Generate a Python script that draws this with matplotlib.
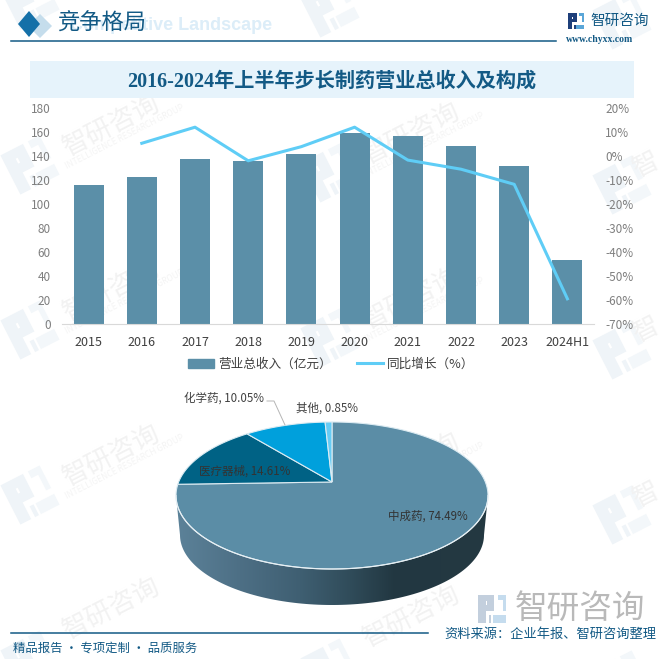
"""竞争格局:制药营业总收入及构成(柱线组合 + 伪 3D 饼图)。"""
import matplotlib

matplotlib.use("Agg")
import matplotlib.pyplot as plt
import numpy as np
from matplotlib.lines import Line2D
from matplotlib.patches import Patch, Polygon

plt.rcParams["font.family"] = ["Noto Sans CJK SC", "DejaVu Sans"]

W, H = 664, 659

years = ["2015", "2016", "2017", "2018", "2019", "2020", "2021", "2022", "2023", "2024H1"]
revenue = [115.8, 122.5, 137.5, 135.8, 141.7, 159, 156.7, 148, 131.7, 53.3]
growth = [None, 5.3, 12, -2, 3.9, 12, -1.7, -5.5, -11.8, -59.5]
left_ticks = list(range(0, 181, 20))
right_ticks = list(range(-70, 21, 10))

pie_labels = ["中成药", "医疗器械", "化学药", "其他"]
pie_values = [74.49, 14.61, 10.05, 0.85]
pie_colors = ["#5b8da6", "#006285", "#00a0dc", "#66ccf5"]

BAR_COLOR = "#5b8fa8"
LINE_COLOR = "#5fcdf6"
NAVY = "#135a85"

fig = plt.figure(figsize=(W / 100, H / 100), dpi=100, facecolor="white")
bg = fig.add_axes([0, 0, 1, 1])
bg.set_xlim(0, W)
bg.set_ylim(H, 0)
bg.axis("off")


def px_axes(x0, y0, x1, y1):
    return fig.add_axes([x0 / W, 1 - y1 / H, (x1 - x0) / W, (y1 - y0) / H])


def draw_logo(ax, cx, cy, size, angle, dark, light, z=1):
    # 简化的“智研”标志:两块折线形 + 一个小方块
    pieces = [
        ([(-1, -1), (0.15, -1), (0.15, 0.15), (-0.45, 0.15), (-0.45, 1), (-1, 1)], dark),
        ([(-0.45, -0.55), (-0.35, -0.55), (-0.35, -0.3), (-0.45, -0.3)], "white"),
        ([(0.4, -1), (1, -1), (1, 0.15), (0.75, 0.15), (0.75, -0.65), (0.4, -0.65)], light),
        ([(0.05, 0.45), (1, 0.45), (1, 1), (0.05, 1)], light),
        ([(-0.25, 0.45), (-0.05, 0.45), (-0.05, 1), (-0.25, 1)], dark),
    ]
    a = np.deg2rad(angle)
    rot = np.array([[np.cos(a), np.sin(a)], [-np.sin(a), np.cos(a)]])
    for pts, col in pieces:
        xy = (np.array(pts) * size) @ rot.T + [cx, cy]
        ax.add_patch(Polygon(xy, closed=True, fc=col, ec="none", zorder=z))


# 水印:最上一行只露出标志;最右一列只放得下一个字
for col_x, drift in [(30, 0), (330, 8), (622, 20)]:
    for row_y in [0, 165, 330, 495, 660]:
        lx, ly = col_x, row_y + drift
        draw_logo(bg, lx, ly, 22, 27, "#eff4f8", "#f3f7fa")
        if row_y == 0:
            continue
        if col_x == 622:
            if row_y < 660:
                bg.text(lx + 24, ly - 20, "智", fontsize=19, color="#f2f2f2", rotation=27,
                        ha="center", va="center", rotation_mode="anchor", zorder=1)
            continue
        text_y = ly - 40 if row_y < 660 else ly - 52
        bg.text(lx + 82, text_y, "智研咨询", fontsize=19, color="#f2f2f2", rotation=27,
                ha="center", va="center", rotation_mode="anchor", zorder=1)
        if row_y < 660:
            bg.text(lx + 95, ly - 28, "INTELLIGENCE RESEARCH GROUP", fontsize=6, color="#f4f4f4",
                    rotation=27, ha="center", va="center", rotation_mode="anchor", zorder=1)

# 页眉
bg.text(70, 26, "Competitive Landscape", fontsize=13, fontweight="bold", color="#dcedf8",
        family="Liberation Sans", va="center", zorder=2)
bg.add_patch(Polygon([(40, 14), (52, 26), (40, 38), (28, 26)], fc="#c5ddec", ec="none", zorder=2))
bg.add_patch(Polygon([(29, 11), (40, 24), (29, 37), (18, 24)], fc="#1470a8", ec="none", zorder=3))
bg.text(57, 23, "竞争格局", fontsize=16, color=NAVY, va="center", zorder=3)
bg.plot([11, 556], [41, 41], color=NAVY, lw=1.1, zorder=3)
draw_logo(bg, 576, 21, 8, 0, "#1e3f7a", "#5aa6d8", z=3)
bg.text(590, 21, "智研咨询", fontsize=10.5, color=NAVY, va="center", zorder=3)
bg.text(566, 40, "www.chyxx.com", fontsize=7, color=NAVY, va="center", family="Liberation Serif",
        fontweight="bold", zorder=3)

# 标题条
bg.fill_between([30, 634], 61, 98, color="#e6f3fb", lw=0, zorder=2)
bg.text(332, 82, "2016-2024年上半年步长制药营业总收入及构成", fontsize=14.5, fontweight="bold", color=NAVY,
        family=["Liberation Serif", "Noto Sans CJK SC"], ha="center", va="center", zorder=3)

# 柱线组合
ax = px_axes(62, 108, 594, 324)
ax.patch.set_alpha(0)
x = np.arange(len(years))
ax.bar(x, revenue, width=0.565, color=BAR_COLOR, zorder=2)
ax.set_xlim(-0.5, len(years) - 0.5)
ax.set_ylim(0, 180)
ax.set_yticks(left_ticks)
ax.set_xticks(x, years)
ax.tick_params(axis="y", length=0, pad=8, labelsize=8.5, labelcolor="#7f7f7f")
ax.tick_params(axis="x", length=0, pad=9, labelsize=9, labelcolor="#404040")
for side in ["top", "left", "right"]:
    ax.spines[side].set_visible(False)
ax.spines["bottom"].set_color("#d9d9d9")

ax2 = ax.twinx()
ax2.patch.set_alpha(0)
ax2.plot(x[1:], growth[1:], color=LINE_COLOR, lw=2.2, zorder=3)
ax2.set_ylim(-70, 20)
ax2.set_yticks(right_ticks, [f"{t}%" for t in right_ticks])
ax2.tick_params(axis="y", length=0, pad=8, labelsize=8.5, labelcolor="#7f7f7f")
for side in ["top", "left", "right", "bottom"]:
    ax2.spines[side].set_visible(False)

fig.legend(
    handles=[Patch(color=BAR_COLOR, label="营业总收入（亿元）"),
             Line2D([0], [0], color=LINE_COLOR, lw=2.2, label="同比增长（%）")],
    loc="center", bbox_to_anchor=(331 / W, 1 - 364 / H), ncol=2, frameon=False,
    fontsize=9.1, labelcolor="#404040", handlelength=2.1, handletextpad=0.3, columnspacing=2.0,
)

# 伪 3D 饼图:单位圆经透视映射到椭圆,圆心落到 (332, 482)
CX, CY, RX, RY = 332, 495.5, 156, 73.5
PERSP = 0.184
DEPTH_CY, DEPTH_RX, DEPTH_RY = 535, 152, 70


def pie_point(frac):
    t = 2 * np.pi * np.asarray(frac)
    u, v = np.sin(t), np.cos(t)
    d = 1 + PERSP * v
    xn = u * np.sqrt(1 - PERSP ** 2) / d
    yn = (v + PERSP) / d
    return CX + RX * xn, CY - RY * yn


apex = (CX, CY - RY * PERSP)

# 侧面(水平渐变)
ts = np.linspace(-np.pi / 2, np.pi / 2, 120)
top_arc = np.column_stack([CX + RX * np.sin(ts), CY + RY * np.cos(ts)])
low_arc = np.column_stack([CX + DEPTH_RX * np.sin(ts), DEPTH_CY + DEPTH_RY * np.cos(ts)])
side = Polygon(np.vstack([top_arc, low_arc[::-1]]), closed=True, fc="none", ec="none",
               transform=bg.transData)
bg.add_patch(side)
stops_x = np.array([176, 240, 300, 350, 395, 488])
stops_rgb = np.array([[0x5c, 0x82, 0x99], [0x4d, 0x6f, 0x85], [0x3f, 0x5f, 0x72],
                      [0x30, 0x4c, 0x5a], [0x22, 0x37, 0x41], [0x24, 0x39, 0x42]]) / 255
xs = np.linspace(176, 488, 312)
grad = np.stack([np.interp(xs, stops_x, stops_rgb[:, i]) for i in range(3)], axis=1)[None, :, :]
im = bg.imshow(grad, extent=[176, 488, 610, 490], aspect="auto", zorder=4)
im.set_clip_path(side)
bg.set_xlim(0, W)
bg.set_ylim(H, 0)

# 顶面
start = 0.0
for val, col in zip(pie_values, pie_colors):
    fr = np.linspace(start, start + val / 100, max(4, int(val * 3)))
    px, py = pie_point(fr)
    pts = np.vstack([[apex], np.column_stack([px, py])])
    bg.add_patch(Polygon(pts, closed=True, fc=col, ec="#dcebf2", lw=0.8, zorder=5))
    start += val / 100

bg.plot(top_arc[:, 0], top_arc[:, 1], color="#e8f0f4", lw=0.8, zorder=6)

lab_fs = 8.3
bg.text(428, 516, f"{pie_labels[0]}, {pie_values[0]}%", fontsize=lab_fs, color="#333333",
        ha="center", va="center", zorder=7)
bg.text(244.5, 471, f"{pie_labels[1]}, {pie_values[1]}%", fontsize=lab_fs, color="#333333",
        ha="center", va="center", zorder=7)
bg.text(224.5, 398, f"{pie_labels[2]}, {pie_values[2]}%", fontsize=lab_fs, color="#404040",
        ha="center", va="center", zorder=7)
bg.text(327.5, 408, f"{pie_labels[3]}, {pie_values[3]}%", fontsize=lab_fs, color="#404040",
        ha="center", va="center", zorder=7)
bg.plot([267, 274, 285], [401, 401, 425], color="#b5b5b5", lw=0.7, zorder=7)

# 页脚
draw_logo(bg, 492, 609, 14, 0, "#c3cfdd", "#c5dcee", z=3)
bg.text(515, 609, "智研咨询", fontsize=23.5, color="#b9b9b9", va="center", zorder=3)
bg.plot([11, 428], [633, 633], color=NAVY, lw=1.1, zorder=3)
bg.text(656, 634, "资料来源：企业年报、智研咨询整理", fontsize=9.5, color=NAVY, ha="right", va="center", zorder=3)
bg.text(13, 648, "精品报告 · 专项定制 · 品质服务", fontsize=8.9, color=NAVY, va="center", zorder=3)

fig.savefig("out.png", dpi=100, facecolor="white")
